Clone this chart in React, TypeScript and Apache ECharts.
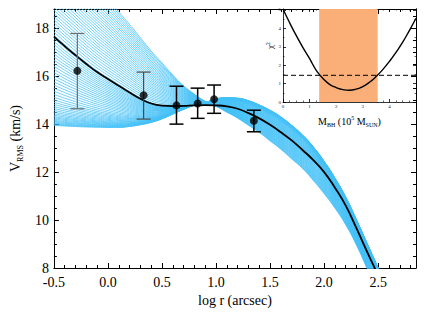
import React, { useEffect, useRef } from 'react';
import * as echarts from 'echarts';

// ---- main panel: model grid in log r (arcsec) ----
const logR = [-0.5, -0.4, -0.3, -0.2, -0.1, 0.0, 0.1, 0.2, 0.3, 0.4, 0.5, 0.6, 0.7, 0.8, 0.9, 1.0,
  1.1, 1.2, 1.3, 1.4, 1.5, 1.6, 1.7, 1.8, 1.9, 2.0, 2.1, 2.2, 2.3, 2.4, 2.5];

// best-fitting model (black curve)
const bestFit = [17.65, 17.25, 16.87, 16.51, 16.17, 15.88, 15.6, 15.32, 15.06, 14.86, 14.77, 14.75, 14.76,
  14.78, 14.79, 14.78, 14.74, 14.64, 14.46, 14.24, 13.97, 13.66, 13.32, 12.92, 12.5, 12.0, 11.35, 10.6,
  9.65, 8.65, 7.7];

// lowest-mass model of the grid (bottom of the fan at small r, top at large r)
const lowMassModel = [13.95, 13.92, 13.9, 13.88, 13.87, 13.86, 13.86, 13.9, 13.97, 14.07, 14.22, 14.42,
  14.62, 14.8, 14.9, 15.05, 15.1, 15.08, 14.98, 14.8, 14.58, 14.3, 13.95, 13.55, 13.05, 12.45, 11.75,
  10.95, 10.0, 9.0, 8.0];

// highest-mass model of the grid (top of the fan at small r, bottom at large r)
const highMassModel = [21.6, 21.15, 20.7, 20.2, 19.7, 19.2, 18.68, 18.15, 17.6, 17.05, 16.55, 16.05, 15.6,
  15.25, 14.95, 14.75, 14.5, 14.25, 13.95, 13.65, 13.3, 12.95, 12.55, 12.15, 11.65, 11.1, 10.5, 9.8,
  8.95, 7.95, 6.9];

// value at log r = -0.5 of each model line of the fan
const fanLeftValues = [13.95, 13.98, 14.01, 14.04, 14.08, 14.12, 14.16, 14.21, 14.26, 14.31, 14.37, 14.43,
  14.5, 14.57, 14.65, 14.73, 14.82, 14.91, 15.01, 15.12, 15.24, 15.37, 15.5, 15.63, 15.76, 15.89, 16.02,
  16.15, 16.28, 16.41, 16.54, 16.67, 16.8, 16.93, 17.06, 17.19, 17.32, 17.45, 17.58, 17.71, 17.84, 17.97,
  18.1, 18.23, 18.36, 18.49, 18.62, 18.75, 18.88, 19.01, 19.14, 19.27, 19.4, 19.53, 19.66, 19.79, 19.92,
  20.05, 20.18, 20.31, 20.44, 20.57, 20.7, 20.83, 20.96, 21.09, 21.22, 21.35, 21.48, 21.6];

// observed points
const obsLogR = [-0.283, 0.33, 0.634, 0.83, 0.982, 1.35];
const obsV = [16.22, 15.2, 14.78, 14.86, 15.04, 14.14];
const obsLow = [14.64, 14.21, 14.0, 14.24, 14.45, 13.68];
const obsHigh = [17.78, 16.17, 15.58, 15.5, 15.63, 14.58];
const errColors = ['#6e6e6e', '#4a4a4a', '#000000', '#000000', '#000000', '#000000'];

// ---- inset: chi^2 vs black-hole mass ----
const massGrid = [0, 0.25, 0.5, 0.75, 1.0, 1.25, 1.5, 1.75, 2.0, 2.25, 2.5, 2.75, 3.0, 3.25, 3.5, 3.75,
  4.0, 4.25, 4.5, 4.75, 5.0];
const chi2 = [5.05, 4.3, 3.6, 2.95, 2.35, 1.72, 1.28, 0.96, 0.78, 0.67, 0.64, 0.7, 0.84, 1.07, 1.38, 1.76,
  2.2, 2.7, 3.25, 3.88, 4.55];
const chi2Limit = 1.45;
const massRangeLow = 1.36;
const massRangeHigh = 3.56;

const FONT = "'Liberation Serif', 'DejaVu Serif', serif";

export default function App() {
  const ref = useRef<HTMLDivElement>(null);
  useEffect(() => {
    if (!ref.current) return;
    const chart = echarts.init(ref.current, null, { renderer: 'svg' });

    // each model line sits between the neighbouring reference models (low / best / high)
    const fanSeries = fanLeftValues.map((v0) => {
      let data: number[][];
      if (v0 <= bestFit[0]) {
        const s = (v0 - lowMassModel[0]) / (bestFit[0] - lowMassModel[0]);
        data = logR.map((x, i) => [x, lowMassModel[i] + s * (bestFit[i] - lowMassModel[i])]);
      } else {
        const s = (v0 - bestFit[0]) / (highMassModel[0] - bestFit[0]);
        data = logR.map((x, i) => [x, bestFit[i] + s * (highMassModel[i] - bestFit[i])]);
      }
      return {
        type: 'line',
        xAxisIndex: 0,
        yAxisIndex: 0,
        data,
        showSymbol: false,
        smooth: true,
        silent: true,
        z: 1,
        lineStyle: { color: '#45C2F7', width: 0.8 },
      };
    });

    const tickStyle = { color: '#000', width: 1 };
    const mainAxisCommon = {
      type: 'value',
      gridIndex: 0,
      splitLine: { show: false },
      axisLine: { show: true, onZero: false, lineStyle: tickStyle },
      axisTick: { show: true, inside: true, length: 5, lineStyle: tickStyle },
      minorTick: { show: true, length: 3, lineStyle: tickStyle },
    };
    const insetAxisCommon = {
      type: 'value',
      gridIndex: 1,
      splitLine: { show: false },
      axisLine: { show: true, onZero: false, lineStyle: { color: '#000', width: 0.8 } },
      axisTick: { show: true, inside: true, length: 3, lineStyle: { color: '#000', width: 0.8 } },
      minorTick: { show: true, length: 1.5, lineStyle: { color: '#000', width: 0.6 } },
    };

    const option: any = {
      animation: false,
      backgroundColor: '#fff',
      grid: [
        { left: 51, top: 9, width: 365, height: 259, show: false },
        { left: 283, top: 9, width: 133, height: 93, show: false },
      ],
      xAxis: [
        {
          ...mainAxisCommon,
          position: 'bottom',
          min: -0.5, max: 2.85, interval: 0.5,
          minorTick: { ...mainAxisCommon.minorTick, splitNumber: 5 },
          axisLabel: {
            show: true, margin: 7, fontSize: 14, fontFamily: FONT, color: '#000',
            showMaxLabel: false,
            formatter: (v: number) => v.toFixed(1),
          },
          name: 'log r (arcsec)',
          nameLocation: 'middle',
          nameGap: 23,
          nameTextStyle: { fontSize: 14, fontFamily: FONT, color: '#000' },
        },
        {
          ...mainAxisCommon,
          position: 'top',
          min: -0.5, max: 2.85, interval: 0.5,
          minorTick: { ...mainAxisCommon.minorTick, splitNumber: 5 },
          axisLabel: { show: false },
        },
        {
          ...insetAxisCommon,
          position: 'bottom',
          min: 0, max: 5, interval: 1,
          minorTick: { ...insetAxisCommon.minorTick, splitNumber: 4 },
          axisLabel: { show: true, margin: 2, fontSize: 5, fontFamily: FONT, color: '#222', showMaxLabel: false },
          name: '{a|M}{s|BH}{a| (10}{p|5}{a| M}{s|SUN}{a|)}',
          nameLocation: 'middle',
          nameGap: 13,
          nameTextStyle: {
            fontFamily: FONT, color: '#000',
            rich: {
              a: { fontSize: 10, fontFamily: FONT, color: '#000', lineHeight: 13 },
              s: { fontSize: 6, fontFamily: FONT, color: '#000', verticalAlign: 'bottom', lineHeight: 13 },
              p: { fontSize: 6, fontFamily: FONT, color: '#000', verticalAlign: 'top', lineHeight: 13 },
            },
          },
        },
        {
          ...insetAxisCommon,
          position: 'top',
          min: 0, max: 5, interval: 1,
          minorTick: { ...insetAxisCommon.minorTick, splitNumber: 4 },
          axisLabel: { show: false },
        },
      ],
      yAxis: [
        {
          ...mainAxisCommon,
          position: 'left',
          min: 8, max: 18.8, interval: 2,
          minorTick: { ...mainAxisCommon.minorTick, splitNumber: 4 },
          axisLabel: { show: true, margin: 5, fontSize: 14, fontFamily: FONT, color: '#000', showMaxLabel: false },
          name: '{a|V}{s|RMS}{a| (km/s)}',
          nameLocation: 'middle',
          nameRotate: 90,
          nameGap: 27,
          nameTextStyle: {
            fontFamily: FONT, color: '#000',
            rich: {
              a: { fontSize: 14, fontFamily: FONT, color: '#000', lineHeight: 18 },
              s: { fontSize: 8, fontFamily: FONT, color: '#000', verticalAlign: 'bottom', lineHeight: 18 },
            },
          },
        },
        {
          ...mainAxisCommon,
          position: 'right',
          min: 8, max: 18.8, interval: 2,
          minorTick: { ...mainAxisCommon.minorTick, splitNumber: 4 },
          axisLabel: { show: false },
        },
        {
          ...insetAxisCommon,
          position: 'left',
          min: 0, max: 5.05, interval: 1,
          minorTick: { ...insetAxisCommon.minorTick, splitNumber: 2 },
          axisLabel: { show: true, margin: 2, fontSize: 5, fontFamily: FONT, color: '#222', showMaxLabel: false },
          name: '{a|χ}{p|2}',
          nameLocation: 'middle',
          nameRotate: 90,
          nameGap: 6,
          nameTextStyle: {
            fontFamily: FONT, color: '#000',
            padding: [0, 0, 0, 20],
            rich: {
              a: { fontSize: 9, fontFamily: FONT, color: '#000', lineHeight: 11 },
              p: { fontSize: 5.5, fontFamily: FONT, color: '#000', verticalAlign: 'top', lineHeight: 11 },
            },
          },
        },
        {
          ...insetAxisCommon,
          position: 'right',
          min: 0, max: 5.05, interval: 1,
          minorTick: { ...insetAxisCommon.minorTick, splitNumber: 2 },
          axisLabel: { show: false },
        },
      ],
      series: [
        ...fanSeries,
        {
          type: 'line',
          xAxisIndex: 0,
          yAxisIndex: 0,
          data: logR.map((x, i) => [x, bestFit[i]]),
          showSymbol: false,
          smooth: true,
          silent: true,
          z: 3,
          lineStyle: { color: '#000', width: 1.8 },
        },
        {
          type: 'custom',
          xAxisIndex: 0,
          yAxisIndex: 0,
          z: 4,
          silent: true,
          data: obsLogR.map((x, i) => [x, obsLow[i], obsHigh[i], i]),
          encode: { x: 0, y: [1, 2] },
          renderItem: (params: any, api: any) => {
            const x = api.value(0);
            const lo = api.value(1);
            const hi = api.value(2);
            const idx = api.value(3);
            const p1 = api.coord([x, lo]);
            const p2 = api.coord([x, hi]);
            const w = 7;
            const color = errColors[idx];
            const lw = idx < 2 ? 1.2 : 1.5;
            const st = { stroke: color, lineWidth: lw };
            return {
              type: 'group',
              children: [
                { type: 'line', shape: { x1: p1[0], y1: p1[1], x2: p2[0], y2: p2[1] }, style: st },
                { type: 'line', shape: { x1: p1[0] - w, y1: p1[1], x2: p1[0] + w, y2: p1[1] }, style: st },
                { type: 'line', shape: { x1: p2[0] - w, y1: p2[1], x2: p2[0] + w, y2: p2[1] }, style: st },
              ],
            };
          },
        },
        {
          type: 'scatter',
          xAxisIndex: 0,
          yAxisIndex: 0,
          z: 5,
          silent: true,
          symbol: 'circle',
          symbolSize: 8,
          itemStyle: { color: '#000' },
          data: obsLogR.map((x, i) => [x, obsV[i]]),
        },
        {
          type: 'line',
          xAxisIndex: 2,
          yAxisIndex: 2,
          z: 6,
          data: massGrid.map((m, i) => [m, chi2[i]]),
          showSymbol: false,
          smooth: true,
          silent: true,
          lineStyle: { color: '#000', width: 1.4 },
          markArea: {
            silent: true,
            itemStyle: { color: '#FAAF78', opacity: 1 },
            data: [[{ xAxis: massRangeLow }, { xAxis: massRangeHigh }]],
          },
        },
        {
          type: 'line',
          xAxisIndex: 2,
          yAxisIndex: 2,
          z: 6,
          data: [[0, chi2Limit], [5, chi2Limit]],
          showSymbol: false,
          silent: true,
          lineStyle: { color: '#000', width: 1, type: [5, 3] },
        },
      ],
    };
    chart.setOption(option);
    return () => chart.dispose();
  }, []);
  return (
    <div
      ref={ref}
      style={{ position: 'fixed', left: 0, top: 0, width: 429, height: 314, background: '#fff' }}
    />
  );
}
